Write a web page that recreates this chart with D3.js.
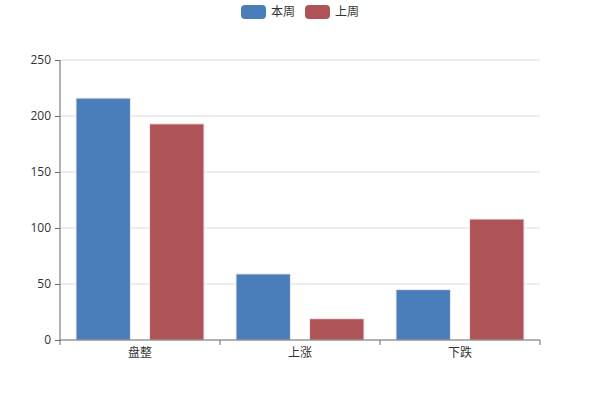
<!DOCTYPE html>
<html>
<head>
<meta charset="utf-8">
<script src="https://cdn.jsdelivr.net/npm/d3@7"></script>
<style>
  body { margin: 0; background: #fff; }
  text { font-family: "Open Sans", "Noto Sans CJK SC", sans-serif; }
</style>
</head>
<body>
<div id="chart"></div>
<script>
var categories = ["盘整", "上涨", "下跌"];
var seriesNames = ["本周", "上周"];
var thisWeek = [216, 59, 45];
var lastWeek = [193, 19, 108];
var yTicks = [0, 50, 100, 150, 200, 250];
var colors = ["#4a7ebb", "#ae5357"];

var width = 600, height = 400,
    margin = { top: 60, right: 60, bottom: 60, left: 60 },
    innerW = width - margin.left - margin.right,
    innerH = height - margin.top - margin.bottom;

var svg = d3.select("#chart").append("svg")
    .attr("width", width)
    .attr("height", height);

var g = svg.append("g")
    .attr("transform", "translate(" + margin.left + "," + margin.top + ")");

var x0 = d3.scaleBand().domain(categories).range([0, innerW]).paddingInner(0).paddingOuter(0);
var x1 = d3.scaleBand().domain(seriesNames).range([16, x0.bandwidth() - 16]).paddingInner(0.26);
var y = d3.scaleLinear().domain([0, 250]).range([innerH, 0]);

// grid lines
g.selectAll(".grid")
    .data(yTicks.slice(1))
    .enter().append("line")
    .attr("x1", 0).attr("x2", innerW)
    .attr("y1", function (d) { return y(d); })
    .attr("y2", function (d) { return y(d); })
    .attr("stroke", "#dcdcdc");

var rows = categories.map(function (c, i) {
    return { cat: c, vals: [thisWeek[i], lastWeek[i]] };
});

var grp = g.selectAll(".cat")
    .data(rows)
    .enter().append("g")
    .attr("transform", function (d) { return "translate(" + x0(d.cat) + ",0)"; });

grp.selectAll("rect")
    .data(function (d) { return d.vals.map(function (v, i) { return { key: seriesNames[i], v: v, i: i }; }); })
    .enter().append("rect")
    .attr("x", function (d) { return x1(d.key); })
    .attr("y", function (d) { return y(d.v); })
    .attr("width", x1.bandwidth())
    .attr("height", function (d) { return innerH - y(d.v); })
    .attr("fill", function (d) { return colors[d.i]; })
    .attr("stroke", "#f3e8ea")
    .attr("stroke-width", 1);

// y axis
var yAxis = g.append("g")
    .call(d3.axisLeft(y).tickValues(yTicks).tickSize(5).tickPadding(4));
yAxis.select(".domain").attr("stroke", "#666").attr("d", "M0," + innerH + "V0");
yAxis.selectAll(".tick line").attr("stroke", "#666");
yAxis.selectAll("text").attr("fill", "#333").style("font-size", "12px");

// x axis
var xAxis = g.append("g")
    .attr("transform", "translate(0," + innerH + ")")
    .call(d3.axisBottom(x0).tickSize(0).tickPadding(8));
xAxis.select(".domain").attr("stroke", "#666").attr("d", "M0,0H" + innerW);
xAxis.selectAll("text").attr("fill", "#333").style("font-size", "12px");
xAxis.selectAll(".bound")
    .data(d3.range(categories.length + 1))
    .enter().append("line")
    .attr("x1", function (d) { return d * x0.step(); })
    .attr("x2", function (d) { return d * x0.step(); })
    .attr("y1", 0).attr("y2", 5)
    .attr("stroke", "#666");

// legend
var legend = svg.append("g").attr("transform", "translate(241,5)");
var item = legend.selectAll(".item")
    .data(seriesNames)
    .enter().append("g")
    .attr("transform", function (d, i) { return "translate(" + (i * 64) + ",0)"; });
item.append("rect")
    .attr("width", 25).attr("height", 14).attr("rx", 4)
    .attr("fill", function (d, i) { return colors[i]; });
item.append("text")
    .attr("x", 30).attr("y", 11)
    .attr("fill", "#333")
    .style("font-size", "12px")
    .text(function (d) { return d; });
</script>
</body>
</html>
